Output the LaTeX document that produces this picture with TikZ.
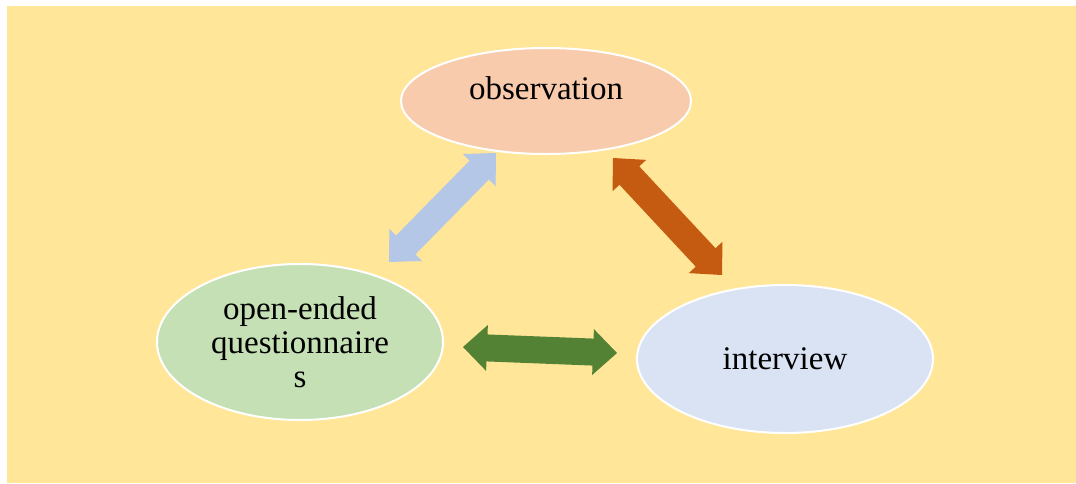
\documentclass[tikz,border=0pt]{standalone}
\usepackage{fontspec}
\setmainfont{Liberation Serif}
\usetikzlibrary{shapes.geometric,calc}
\definecolor{bgyellow}{HTML}{FFE699}
\definecolor{obsfill}{HTML}{F8CBAD}
\definecolor{oeqfill}{HTML}{C5E0B4}
\definecolor{intfill}{HTML}{DAE3F3}
\definecolor{bluearr}{HTML}{B4C7E7}
\definecolor{orangearr}{HTML}{C55A11}
\definecolor{greenarr}{HTML}{548235}
\tikzset{
  oval/.style={ellipse, draw=white, line width=2pt, inner sep=0pt,
    font=\fontsize{33}{34}\selectfont, align=center, text=black},
  lbl/.style={inner sep=0pt, font=\fontsize{33}{34}\selectfont, align=center, text=black},
}
% double-headed block arrow: colour, from, to
\newcommand\blockarrow[3]{%
  \path coordinate (h1) at ($(#2)!24pt!(#3)$)
        coordinate (h2) at ($(#3)!24pt!(#2)$);
  \fill[#1] (#2)
    -- ($(h1)!23pt!90:(#3)$) -- ($(h1)!13.5pt!90:(#3)$)
    -- ($(h2)!13.5pt!-90:(#2)$) -- ($(h2)!23pt!-90:(#2)$)
    -- (#3)
    -- ($(h2)!23pt!90:(#2)$) -- ($(h2)!13.5pt!90:(#2)$)
    -- ($(h1)!13.5pt!-90:(#3)$) -- ($(h1)!23pt!-90:(#3)$)
    -- cycle;
}
\begin{document}
\begin{tikzpicture}[x=1pt,y=-1pt]
\useasboundingbox (0,0) rectangle (1076,483);
\fill[bgyellow] (7,6) rectangle (1076,483);

\node[oval, fill=obsfill, minimum width=290pt, minimum height=106pt] (obs) at (546,101) {};
\node[lbl] (obstext) at (546,88) {observation};
\node[oval, fill=oeqfill, minimum width=286pt, minimum height=156pt] (oeq) at (300,342) {open-ended\\questionnaire\\s};
\node[oval, fill=intfill, minimum width=296pt, minimum height=148pt] (int) at (785,359) {interview};

\coordinate (b1) at (389,262);
\coordinate (b2) at (496,153);
\coordinate (o1) at (613,158);
\coordinate (o2) at (722,275);
\coordinate (g1) at (463,347);
\coordinate (g2) at (617,353);

\blockarrow{bluearr}{b1}{b2}
\blockarrow{orangearr}{o1}{o2}
\blockarrow{greenarr}{g1}{g2}
\end{tikzpicture}
\end{document}
